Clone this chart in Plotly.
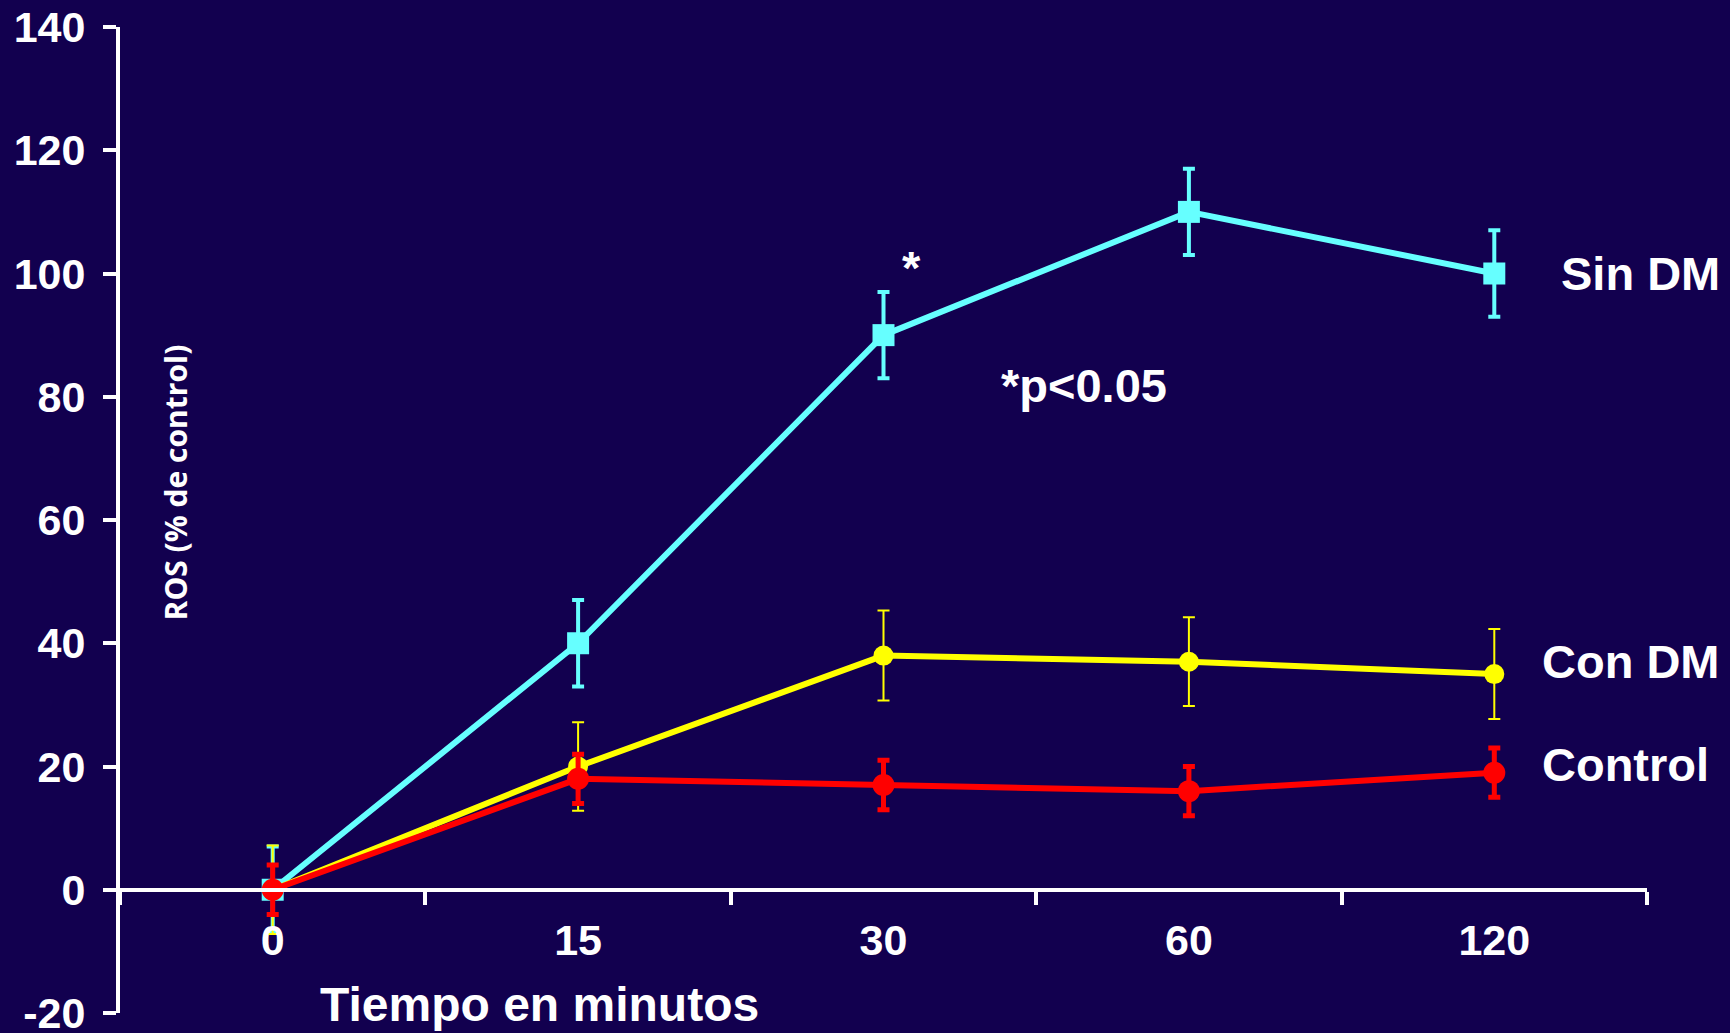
import plotly.graph_objects as go

categories = ["0", "15", "30", "60", "120"]
sin_dm = [0, 40, 90, 110, 100]
sin_dm_err = [7, 7, 7, 7, 7]
con_dm = [0, 20, 38, 37, 35]
con_dm_err = [7.2, 7.2, 7.3, 7.2, 7.3]
control = [0, 18, 17, 16, 19]
control_err = [4, 4, 4, 4, 4]
y_ticks = [-20, 0, 20, 40, 60, 80, 100, 120, 140]
y_tick_labels = ["-20", "0", "20", "40", "60", "80", "100", "120", "140"]

BG = "#12004F"
CYAN = "#66FFFF"
YELLOW = "#FFFF00"
RED = "#FF0000"
WHITE = "#FFFFFF"
FONT = "Liberation Sans, Arial, sans-serif"

fig = go.Figure()
fig.add_trace(go.Scatter(
    x=categories, y=sin_dm, mode="lines+markers", name="Sin DM",
    line=dict(color=CYAN, width=6),
    marker=dict(symbol="square", size=22, color=CYAN),
    error_y=dict(type="data", array=sin_dm_err, color=CYAN, thickness=4, width=6),
))
fig.add_trace(go.Scatter(
    x=categories, y=con_dm, mode="lines+markers", name="Con DM",
    line=dict(color=YELLOW, width=6),
    marker=dict(symbol="circle", size=20, color=YELLOW),
    error_y=dict(type="data", array=con_dm_err, color=YELLOW, thickness=2, width=6),
))
fig.add_trace(go.Scatter(
    x=categories, y=control, mode="lines+markers", name="Control",
    line=dict(color=RED, width=6),
    marker=dict(symbol="circle", size=22, color=RED),
    error_y=dict(type="data", array=control_err, color=RED, thickness=5, width=6),
))

fig.update_layout(
    width=1730, height=1033,
    paper_bgcolor=BG, plot_bgcolor=BG,
    margin=dict(l=120, r=83, t=27, b=20, pad=0),
    showlegend=False,
    font=dict(family=FONT, color=WHITE),
    xaxis=dict(
        type="category", range=[-0.5, 4.5],
        anchor="free", position=0.125, automargin=False,
        showline=True, linecolor=WHITE, linewidth=4,
        ticks="outside", tickson="boundaries", ticklen=13, tickwidth=4, tickcolor=WHITE,
        tickfont=dict(family=FONT, size=43, color=WHITE, weight="bold"),
        ticklabelstandoff=12, ticklabeloverflow="allow",
        showgrid=False, zeroline=False,
    ),
    yaxis=dict(
        range=[-20, 140], tickvals=y_ticks, ticktext=y_tick_labels,
        domain=[0, 1], automargin=False,
        showline=True, linecolor=WHITE, linewidth=4,
        ticks="outside", ticklen=13, tickwidth=4, tickcolor=WHITE,
        tickfont=dict(family=FONT, size=43, color=WHITE, weight="bold"),
        ticklabelstandoff=9, ticklabeloverflow="allow",
        showgrid=False, zeroline=False,
    ),
)

ann_font = dict(family=FONT, size=47, color=WHITE, weight="bold")
fig.add_annotation(text="Tiempo en minutos", xref="paper", yref="paper",
                   x=0.2747, y=0.009, xanchor="center", yanchor="middle",
                   showarrow=False, font=dict(family=FONT, size=48, color=WHITE, weight="bold"))
fig.add_annotation(text="ROS (% de control)", xref="paper", yref="paper",
                   x=0.0366, y=0.538, xanchor="center", yanchor="middle",
                   textangle=-90, showarrow=False,
                   font=dict(family="Open Sans, sans-serif", size=30, color=WHITE, weight="bold"))
fig.add_annotation(text="Sin DM", xref="paper", yref="y", x=0.9424, y=100,
                   xanchor="left", yanchor="middle", showarrow=False, font=ann_font)
fig.add_annotation(text="Con DM", xref="paper", yref="y", x=0.930, y=37,
                   xanchor="left", yanchor="middle", showarrow=False, font=ann_font)
fig.add_annotation(text="Control", xref="paper", yref="y", x=0.930, y=20.4,
                   xanchor="left", yanchor="middle", showarrow=False, font=ann_font)
fig.add_annotation(text="*", xref="paper", yref="y", x=0.5185, y=101,
                   xanchor="center", yanchor="middle", showarrow=False, font=ann_font)
fig.add_annotation(text="*p<0.05", xref="paper", yref="y", x=0.6315, y=81.75,
                   xanchor="center", yanchor="middle", showarrow=False, font=ann_font)

fig.write_html(
    "out.html",
    config={"displayModeBar": False},
    post_script="document.body.style.margin='0';document.body.style.padding='0';"
                "document.body.style.background='" + BG + "';"
                "document.documentElement.style.overflow='hidden';",
)
